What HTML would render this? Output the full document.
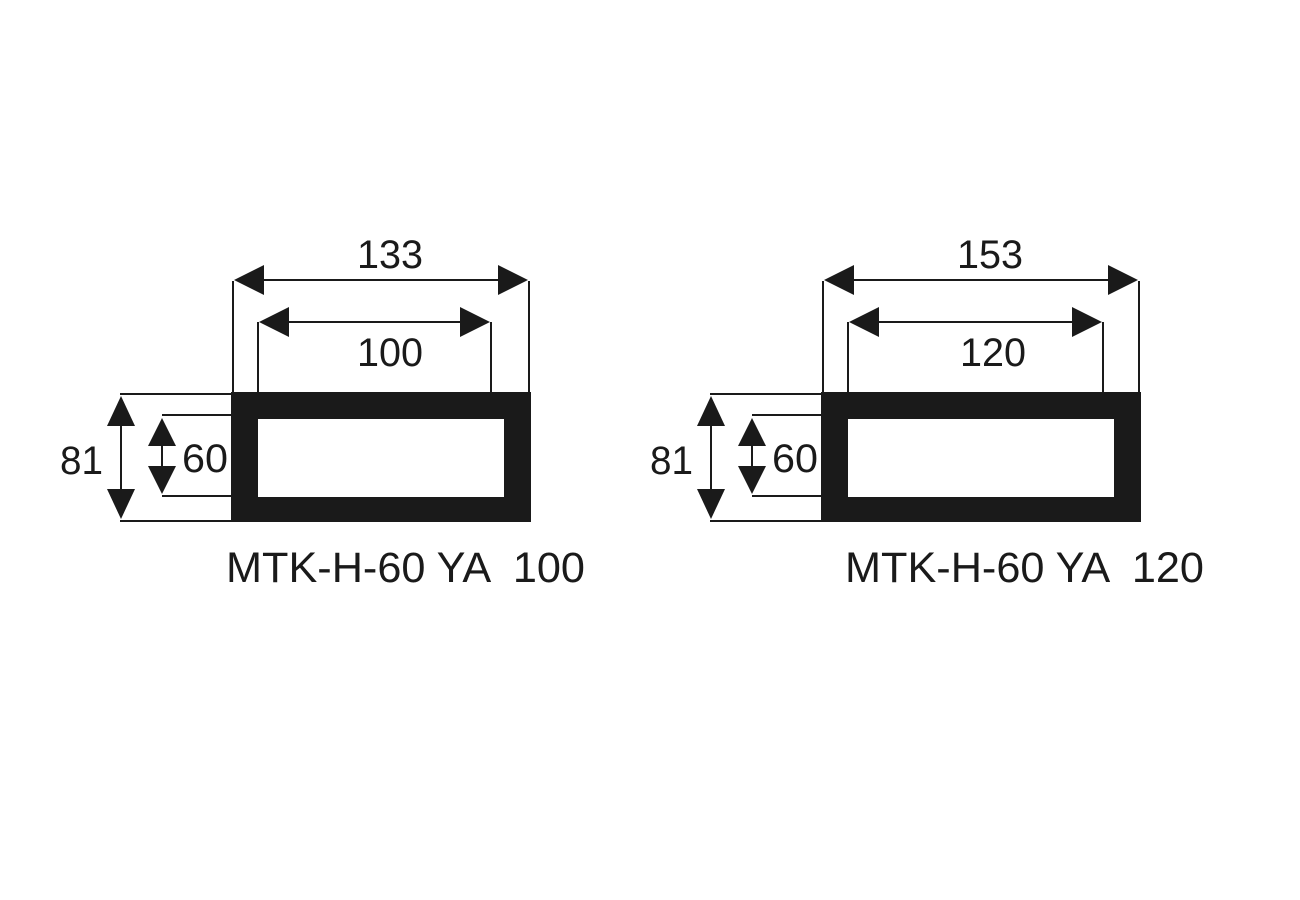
<!DOCTYPE html>
<html><head><meta charset="utf-8"><style>
html,body{margin:0;padding:0;background:#fff;}
svg{display:block;}
text{font-family:"Liberation Sans",sans-serif;fill:#1a1a1a;}
</style></head><body>
<svg width="1300" height="900" viewBox="0 0 1300 900" xmlns="http://www.w3.org/2000/svg">
<g transform="translate(231,392)">
  <path d="M0,0 H300 V130 H0 Z M27,27 V105 H273 V27 Z" fill="#1a1a1a" fill-rule="evenodd"/>
  <g stroke="#1a1a1a" stroke-width="2" fill="none">
    <line x1="2" y1="0" x2="2" y2="-111"/>
    <line x1="298" y1="0" x2="298" y2="-111"/>
    <line x1="27" y1="0" x2="27" y2="-70"/>
    <line x1="260" y1="0" x2="260" y2="-70"/>
    <line x1="-111" y1="2" x2="0" y2="2"/>
    <line x1="-111" y1="129" x2="0" y2="129"/>
    <line x1="-69" y1="23" x2="0" y2="23"/>
    <line x1="-69" y1="104" x2="0" y2="104"/>
    <line x1="10" y1="-112" x2="290" y2="-112"/>
    <line x1="35" y1="-70" x2="252" y2="-70"/>
    <line x1="-110" y1="10" x2="-110" y2="122"/>
    <line x1="-69" y1="30" x2="-69" y2="98"/>
  </g>
  <g fill="#1a1a1a">
    <polygon points="3,-112 33,-127 33,-97"/>
    <polygon points="297,-112 267,-127 267,-97"/>
    <polygon points="28,-70 58,-85 58,-55"/>
    <polygon points="259,-70 229,-85 229,-55"/>
    <polygon points="-110,4 -124,34 -96,34"/>
    <polygon points="-110,127 -124,97 -96,97"/>
    <polygon points="-69,26 -83,54 -55,54"/>
    <polygon points="-69,102 -83,74 -55,74"/>
  </g>
</g>
<text x="390" y="268" font-size="40" text-anchor="middle" textLength="66" lengthAdjust="spacingAndGlyphs">133</text>
<text x="390" y="366" font-size="40" text-anchor="middle" textLength="66" lengthAdjust="spacingAndGlyphs">100</text>
<text x="60" y="474" font-size="40" textLength="43" lengthAdjust="spacingAndGlyphs">81</text>
<text x="182" y="472" font-size="40" textLength="46" lengthAdjust="spacingAndGlyphs">60</text>
<text x="226" y="582" font-size="43" textLength="359" lengthAdjust="spacingAndGlyphs" xml:space="preserve">MTK-H-60 YA  100</text>

<g transform="translate(821,392)">
  <path d="M0,0 H320 V130 H0 Z M27,27 V105 H293 V27 Z" fill="#1a1a1a" fill-rule="evenodd"/>
  <g stroke="#1a1a1a" stroke-width="2" fill="none">
    <line x1="2" y1="0" x2="2" y2="-111"/>
    <line x1="318" y1="0" x2="318" y2="-111"/>
    <line x1="27" y1="0" x2="27" y2="-70"/>
    <line x1="282" y1="0" x2="282" y2="-70"/>
    <line x1="-111" y1="2" x2="0" y2="2"/>
    <line x1="-111" y1="129" x2="0" y2="129"/>
    <line x1="-69" y1="23" x2="0" y2="23"/>
    <line x1="-69" y1="104" x2="0" y2="104"/>
    <line x1="10" y1="-112" x2="310" y2="-112"/>
    <line x1="35" y1="-70" x2="274" y2="-70"/>
    <line x1="-110" y1="10" x2="-110" y2="122"/>
    <line x1="-69" y1="30" x2="-69" y2="98"/>
  </g>
  <g fill="#1a1a1a">
    <polygon points="3,-112 33,-127 33,-97"/>
    <polygon points="317,-112 287,-127 287,-97"/>
    <polygon points="28,-70 58,-85 58,-55"/>
    <polygon points="281,-70 251,-85 251,-55"/>
    <polygon points="-110,4 -124,34 -96,34"/>
    <polygon points="-110,127 -124,97 -96,97"/>
    <polygon points="-69,26 -83,54 -55,54"/>
    <polygon points="-69,102 -83,74 -55,74"/>
  </g>
</g>
<text x="990" y="268" font-size="40" text-anchor="middle" textLength="66" lengthAdjust="spacingAndGlyphs">153</text>
<text x="993" y="366" font-size="40" text-anchor="middle" textLength="66" lengthAdjust="spacingAndGlyphs">120</text>
<text x="650" y="474" font-size="40" textLength="43" lengthAdjust="spacingAndGlyphs">81</text>
<text x="772" y="472" font-size="40" textLength="46" lengthAdjust="spacingAndGlyphs">60</text>
<text x="845" y="582" font-size="43" textLength="359" lengthAdjust="spacingAndGlyphs" xml:space="preserve">MTK-H-60 YA  120</text>
</svg>
</body></html>
